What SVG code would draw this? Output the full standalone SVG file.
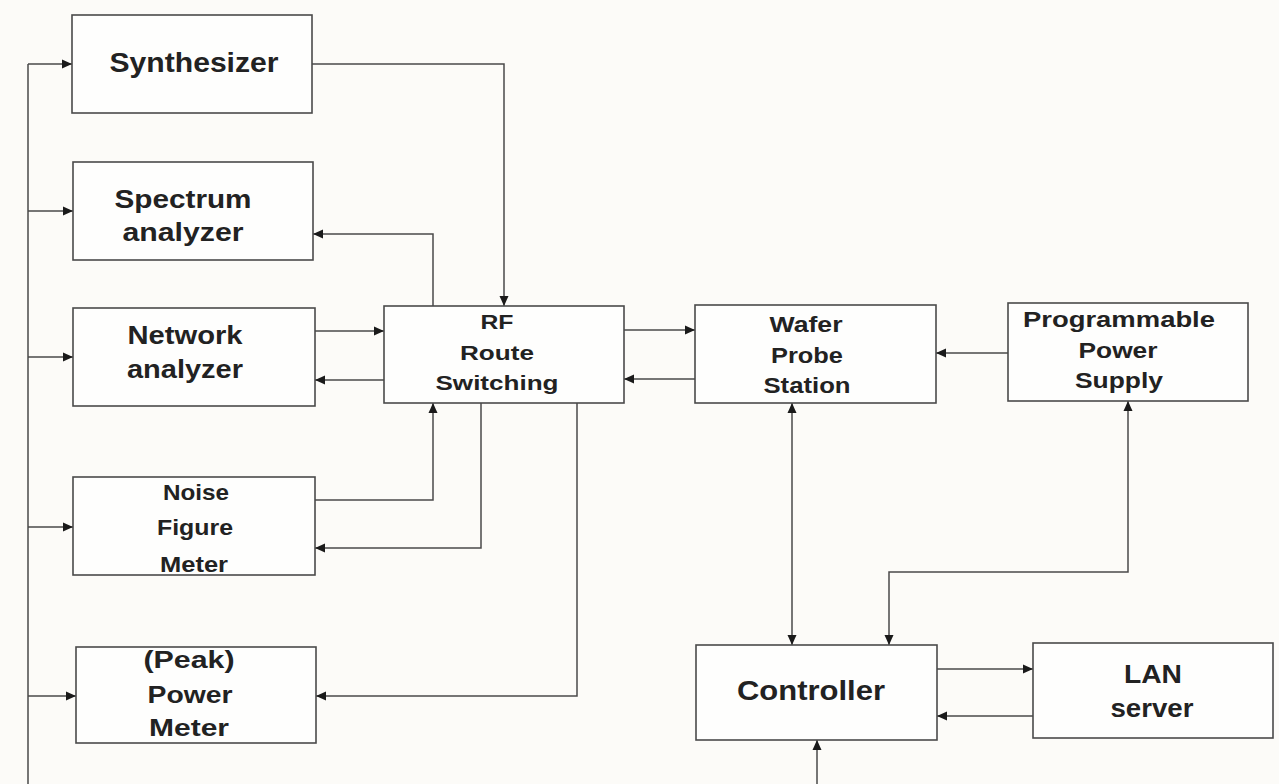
<svg xmlns="http://www.w3.org/2000/svg" width="1279" height="784" viewBox="0 0 1279 784">
<defs>
<marker id="arr" viewBox="0 0 10 10" refX="10" refY="5" markerWidth="10" markerHeight="10" markerUnits="userSpaceOnUse" orient="auto-start-reverse">
<path d="M0,0.5 L10,5 L0,9.5 z" fill="#1a1a1a"/>
</marker>
<style>
.box{fill:#fefefd;stroke:#4a4a4a;stroke-width:1.6}
.t{font-family:"Liberation Sans",Arial,sans-serif;font-weight:bold;fill:#222;text-anchor:middle}
.c{fill:none;stroke:#4a4a4a;stroke-width:1.5}
</style>
</defs>
<rect width="1279" height="784" fill="#fcfbf8"/>
<g id="connectors">
<path class="c" d="M28,64 V784"/>
<path class="c" d="M28,64 H72" marker-end="url(#arr)"/>
<path class="c" d="M28,211 H73" marker-end="url(#arr)"/>
<path class="c" d="M28,357 H73" marker-end="url(#arr)"/>
<path class="c" d="M28,527 H73" marker-end="url(#arr)"/>
<path class="c" d="M28,696 H76" marker-end="url(#arr)"/>
<path class="c" d="M312,64 H504 V306" marker-end="url(#arr)"/>
<path class="c" d="M433,306 V234 H313" marker-end="url(#arr)"/>
<path class="c" d="M315,331 H384" marker-end="url(#arr)"/>
<path class="c" d="M384,380 H315" marker-end="url(#arr)"/>
<path class="c" d="M315,500 H433 V403" marker-end="url(#arr)"/>
<path class="c" d="M481,403 V548 H315" marker-end="url(#arr)"/>
<path class="c" d="M577,403 V696 H316" marker-end="url(#arr)"/>
<path class="c" d="M624,330 H695" marker-end="url(#arr)"/>
<path class="c" d="M695,379 H624" marker-end="url(#arr)"/>
<path class="c" d="M1008,353 H936" marker-end="url(#arr)"/>
<path class="c" d="M792,403 V645" marker-start="url(#arr)" marker-end="url(#arr)"/>
<path class="c" d="M1128,401 V572 H889 V645" marker-start="url(#arr)" marker-end="url(#arr)"/>
<path class="c" d="M937,669 H1033" marker-end="url(#arr)"/>
<path class="c" d="M1033,716 H937" marker-end="url(#arr)"/>
<path class="c" d="M817,784 V740" marker-end="url(#arr)"/>
</g>
<g id="synthesizer">
<rect class="box" x="72" y="15" width="240" height="98"/>
<text class="t" x="194" y="72" font-size="28" textLength="169" lengthAdjust="spacingAndGlyphs">Synthesizer</text>
</g>
<g id="spectrum">
<rect class="box" x="73" y="162" width="240" height="98"/>
<text class="t" x="183" y="208" font-size="25" textLength="137" lengthAdjust="spacingAndGlyphs">Spectrum</text>
<text class="t" x="183" y="241" font-size="25" textLength="121" lengthAdjust="spacingAndGlyphs">analyzer</text>
</g>
<g id="network">
<rect class="box" x="73" y="308" width="242" height="98"/>
<text class="t" x="185" y="344" font-size="25" textLength="115" lengthAdjust="spacingAndGlyphs">Network</text>
<text class="t" x="185" y="378" font-size="25" textLength="116" lengthAdjust="spacingAndGlyphs">analyzer</text>
</g>
<g id="noise">
<rect class="box" x="73" y="477" width="242" height="98"/>
<text class="t" x="196" y="500" font-size="22" textLength="66" lengthAdjust="spacingAndGlyphs">Noise</text>
<text class="t" x="195" y="535" font-size="22" textLength="76" lengthAdjust="spacingAndGlyphs">Figure</text>
<text class="t" x="194" y="572" font-size="22" textLength="68" lengthAdjust="spacingAndGlyphs">Meter</text>
</g>
<g id="peak">
<rect class="box" x="76" y="647" width="240" height="96"/>
<text class="t" x="189" y="668" font-size="23" textLength="91" lengthAdjust="spacingAndGlyphs">(Peak)</text>
<text class="t" x="190" y="703" font-size="23" textLength="85" lengthAdjust="spacingAndGlyphs">Power</text>
<text class="t" x="189" y="736" font-size="23" textLength="80" lengthAdjust="spacingAndGlyphs">Meter</text>
</g>
<g id="rf">
<rect class="box" x="384" y="306" width="240" height="97"/>
<text class="t" x="497" y="329" font-size="21" textLength="33" lengthAdjust="spacingAndGlyphs">RF</text>
<text class="t" x="497" y="360" font-size="21" textLength="74" lengthAdjust="spacingAndGlyphs">Route</text>
<text class="t" x="497" y="390" font-size="21" textLength="123" lengthAdjust="spacingAndGlyphs">Switching</text>
</g>
<g id="wafer">
<rect class="box" x="695" y="305" width="241" height="98"/>
<text class="t" x="806" y="332" font-size="22" textLength="73" lengthAdjust="spacingAndGlyphs">Wafer</text>
<text class="t" x="807" y="363" font-size="22" textLength="72" lengthAdjust="spacingAndGlyphs">Probe</text>
<text class="t" x="807" y="393" font-size="22" textLength="87" lengthAdjust="spacingAndGlyphs">Station</text>
</g>
<g id="pps">
<rect class="box" x="1008" y="303" width="240" height="98"/>
<text class="t" x="1119" y="327" font-size="22" textLength="192" lengthAdjust="spacingAndGlyphs">Programmable</text>
<text class="t" x="1118" y="358" font-size="22" textLength="79" lengthAdjust="spacingAndGlyphs">Power</text>
<text class="t" x="1119" y="388" font-size="22" textLength="88" lengthAdjust="spacingAndGlyphs">Supply</text>
</g>
<g id="controller">
<rect class="box" x="696" y="645" width="241" height="95"/>
<text class="t" x="811" y="700" font-size="28" textLength="148" lengthAdjust="spacingAndGlyphs">Controller</text>
</g>
<g id="lan">
<rect class="box" x="1033" y="643" width="240" height="95"/>
<text class="t" x="1153" y="683" font-size="25" textLength="58" lengthAdjust="spacingAndGlyphs">LAN</text>
<text class="t" x="1152" y="717" font-size="25" textLength="83" lengthAdjust="spacingAndGlyphs">server</text>
</g>
</svg>
